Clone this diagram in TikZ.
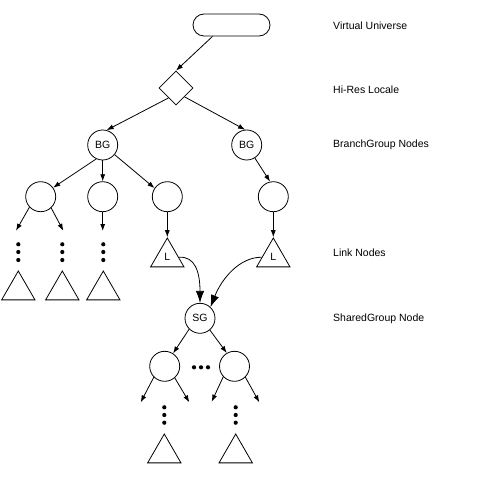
\documentclass[tikz,border=0pt]{standalone}
\usepackage{fontspec}
\setmainfont{Liberation Sans}
\usetikzlibrary{arrows.meta,shapes.geometric}
\begin{document}
\begin{tikzpicture}[x=1pt,y=-1pt,
 every node/.style={font=\fontsize{10.5}{12}\selectfont},
 ln/.style={line width=0.8pt},
 arr/.style={ln,-{Latex[length=7pt,width=5pt]}},
 bigarr/.style={ln,-{Latex[length=12pt,width=8.5pt]}},
 circ/.style={circle,draw,ln,minimum size=30pt,inner sep=0pt},
 tri/.style={regular polygon,regular polygon sides=3,draw,ln,minimum size=38.5pt,inner sep=0pt},
 dot/.style={circle,fill,inner sep=0pt,minimum size=4.2pt},
 lbl/.style={anchor=west,inner sep=0pt}]
\useasboundingbox (0,0) rectangle (500,476);
% nodes
\node[draw,ln,rounded corners=11pt,minimum width=77pt,minimum height=22pt] (U) at (231.5,25) {};
\node[diamond,draw,ln,minimum size=34pt,inner sep=0pt] (D) at (176,88) {};
\node[circ] (BGL) at (102.7,145) {BG};
\node[circ] (BGR) at (246.7,145) {BG};
\node[circ] (C1) at (40.7,196.7) {};
\node[circ] (C2) at (102.7,196.7) {};
\node[circ] (C3) at (167.3,196.7) {};
\node[circ] (C4) at (273.3,196.7) {};
\node[tri] (T1) at (18.3,290.25) {};
\node[tri] (T2) at (62.3,290.25) {};
\node[tri] (T3) at (103.3,290.25) {};
\node[tri] (L1) at (167.3,257.25) {L};
\node[tri] (L2) at (273.3,257.25) {L};
\node[circ] (SG) at (200,318.3) {SG};
\node[circ] (S1) at (164.7,366.3) {};
\node[circ] (S2) at (234.5,366.3) {};
\node[tri] (B1) at (164.3,453.25) {};
\node[tri] (B2) at (235.7,453.25) {};
% dots
\foreach \x [count=\i] in {18.3,62.3,103.3}{
  \node[dot] (va\i) at (\x,244.3) {};
  \node[dot] (vb\i) at (\x,252) {};
  \node[dot] (vc\i) at (\x,260) {};
}
\foreach \x [count=\i] in {164.3,235.7}{
  \node[dot] (wa\i) at (\x,407.3) {};
  \node[dot] (wb\i) at (\x,415) {};
  \node[dot] (wc\i) at (\x,422.7) {};
}
\node[dot] (h1) at (194,367.3) {};
\node[dot] (h2) at (201,367.3) {};
\node[dot] (h3) at (208,367.3) {};
% free ends
\coordinate (e1) at (16,230.7);
\coordinate (e2) at (63.3,230.7);
\coordinate (e3) at (102.7,231);
\coordinate (f1) at (140.7,402.3);
\coordinate (f2) at (189.3,402.3);
\coordinate (f3) at (211.7,401.7);
\coordinate (f4) at (259.3,402.3);
% connectors
\draw[arr] (U.211) -- (D.north);
\draw[arr] (D.233) -- (BGL.75);
\draw[arr] (D.314) -- (BGR.96);
\draw[arr] (BGL.245) -- (C1.36);
\draw[arr] (BGL.south) -- (C2.north);
\draw[arr] (BGL.321) -- (C3.146);
\draw[arr] (BGR.302) -- (C4.102);
\draw[arr] (C1.223) -- (e1);
\draw[arr] (C1.313) -- (e2);
\draw[arr] (C2.south) -- (e3);
\draw[arr] (C3.south) -- (L1.corner 1);
\draw[arr] (C4.south) -- (L2.corner 1);
\draw[bigarr] (L1.east) .. controls (195,256) and (200,272) .. (SG.north);
\draw[bigarr] (L2.west) .. controls (240,257) and (222,278) .. (SG.47);
\draw[arr] (SG.225) -- (S1.57);
\draw[arr] (SG.310) -- (S2.120);
\draw[arr] (S1.225) -- (f1);
\draw[arr] (S1.311) -- (f2);
\draw[arr] (S2.223) -- (f3);
\draw[arr] (S2.315) -- (f4);
% labels
\node[lbl] (l1) at (333,26) {Virtual Universe};
\node[lbl] (l2) at (333,90) {Hi-Res Locale};
\node[lbl] (l3) at (333,145) {BranchGroup Nodes};
\node[lbl] (l4) at (333,252.3) {Link Nodes};
\node[lbl] (l5) at (333,318.3) {SharedGroup Node};
\end{tikzpicture}
\end{document}
